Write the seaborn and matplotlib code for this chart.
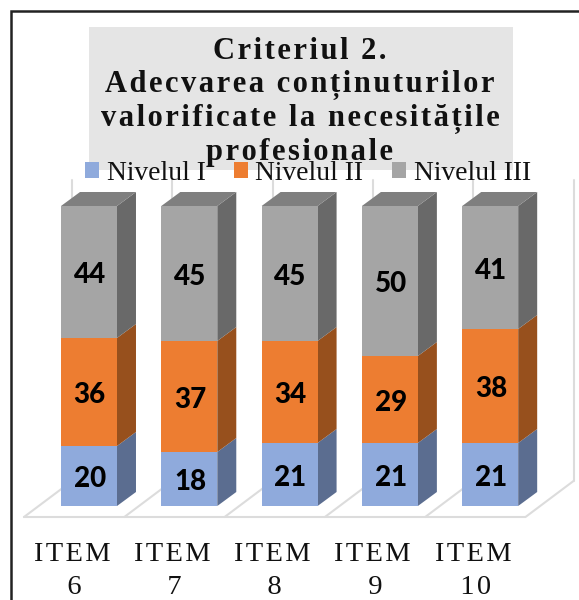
import matplotlib
matplotlib.use('Agg')
import matplotlib.pyplot as plt
from matplotlib.patches import Polygon, Rectangle
import pandas as pd
import seaborn as sns

# data
items = ['ITEM\n6', 'ITEM\n7', 'ITEM\n8', 'ITEM\n9', 'ITEM\n10']
nivel_1 = [20, 18, 21, 21, 21]
nivel_2 = [36, 37, 34, 29, 38]
nivel_3 = [44, 45, 45, 50, 41]
titlu = ['Criteriul 2.', 'Adecvarea conținuturilor', 'valorificate la necesitățile', 'profesionale']

culori = ['#8FAADC', '#ED7D31', '#A5A5A5']
culori_lat = ['#5B6D90', '#97501D', '#696969']

W, H = 579, 600
sns.set_theme(style='white')
serif = ['Liberation Serif', 'DejaVu Serif']


def spatiat(s):
    # litere rarite cu hair space
    return '\u200a'.join(s)


fig = plt.figure(figsize=(W / 100, H / 100), dpi=100)
ax = fig.add_axes([0, (H - 525) / H, 1, (525 - 170) / H])

df = pd.DataFrame({'item': items, 'n1': nivel_1, 'n2': nivel_2, 'n3': nivel_3})
df['b2'] = df['n1']
df['b3'] = df['n1'] + df['n2']

sns.barplot(data=df, x='item', y='n1', color=culori[0], saturation=1, width=0.558, label='Nivelul I', ax=ax, zorder=3, linewidth=0)
sns.barplot(data=df, x='item', y='n2', bottom=df['b2'], color=culori[1], saturation=1, width=0.558, label='Nivelul II', ax=ax, zorder=3, linewidth=0)
sns.barplot(data=df, x='item', y='n3', bottom=df['b3'], color=culori[2], saturation=1, width=0.558, label='Nivelul III', ax=ax, zorder=3, linewidth=0)

# scara: 100.3 px pe categorie, 3 px pe unitate
ux, uy = 100.3, 3.0
ax.set_xlim(-89 / ux, (W - 89) / ux)
ax.set_ylim(-(525 - 506) / uy, (506 - 170) / uy)
dx, dy = 19 / ux, 14 / uy

# podea si pereti
gri = '#DCDCDC'
ax.plot([-65 / ux, 436 / ux], [-11 / uy, -11 / uy], color=gri, lw=1.5, zorder=1, clip_on=False)
for i in range(6):
    ax.plot([i - 65 / ux, i - 17 / ux], [-11 / uy, 25 / uy], color=gri, lw=1.5, zorder=1)
    ax.plot([i - 17 / ux, i - 17 / ux], [25 / uy, 326 / uy], color=gri, lw=1.5, zorder=1)

# fetele laterale si capacul, din barele desenate
for cont, lat in zip(ax.containers, culori_lat):
    for bar in cont:
        x1 = bar.get_x() + bar.get_width()
        y0, y1 = bar.get_y(), bar.get_y() + bar.get_height()
        ax.add_patch(Polygon([(x1, y0), (x1 + dx, y0 + dy), (x1 + dx, y1 + dy), (x1, y1)], color=lat, lw=0, zorder=2.5))
for bar in ax.containers[2]:
    x0, x1 = bar.get_x(), bar.get_x() + bar.get_width()
    y1 = bar.get_y() + bar.get_height()
    ax.add_patch(Polygon([(x0, y1), (x1, y1), (x1 + dx, y1 + dy), (x0 + dx, y1 + dy)], color='#7F7F7F', lw=0, zorder=2.5))

for cont, vals in zip(ax.containers, [nivel_1, nivel_2, nivel_3]):
    etichete = ax.bar_label(cont, labels=[str(v) for v in vals], label_type='center', fontsize=20, fontweight='black',
                            family='Lato', color='black', zorder=5)
    for t in etichete:
        t.xyann = (0.5, -2.2)

ax.set_xlabel('')
ax.set_ylabel('')
ax.set_yticks([])
ax.set_xticks([i - 16 / ux for i in range(5)], [spatiat(s) for s in items], family=serif, fontsize=20.5, color='#111111',
              linespacing=1.46)
ax.tick_params(axis='x', length=0, pad=12)
sns.despine(ax=ax, left=True, bottom=True)
ax.patch.set_alpha(0)

# rama
fig.add_artist(Rectangle((11 / W, -0.05), 1.1, 1.05 - 11 / H, transform=fig.transFigure, fill=False, ec='#222222', lw=1.8))

# titlu
fig.add_artist(Rectangle((89 / W, 1 - 170 / H), 424 / W, 143 / H, transform=fig.transFigure, color='#E5E5E5', lw=0, zorder=0))
fig.text(300 / W, 1 - 102 / H, '\n'.join(spatiat(s) for s in titlu), ha='center', va='center', family=serif, fontsize=22,
         fontweight='bold', color='#111111', linespacing=1.19, zorder=1)

leg = ax.legend(loc='center', bbox_to_anchor=(308 / W, 1 - 173 / H), bbox_transform=fig.transFigure, ncol=3, frameon=False,
                prop={'family': serif, 'size': 19.8}, handlelength=0.51, handleheight=0.51, handletextpad=0.26,
                columnspacing=1.05, borderpad=0, labelcolor='#111111')
leg.set_zorder(6)

plt.savefig('out.png', dpi=100)
